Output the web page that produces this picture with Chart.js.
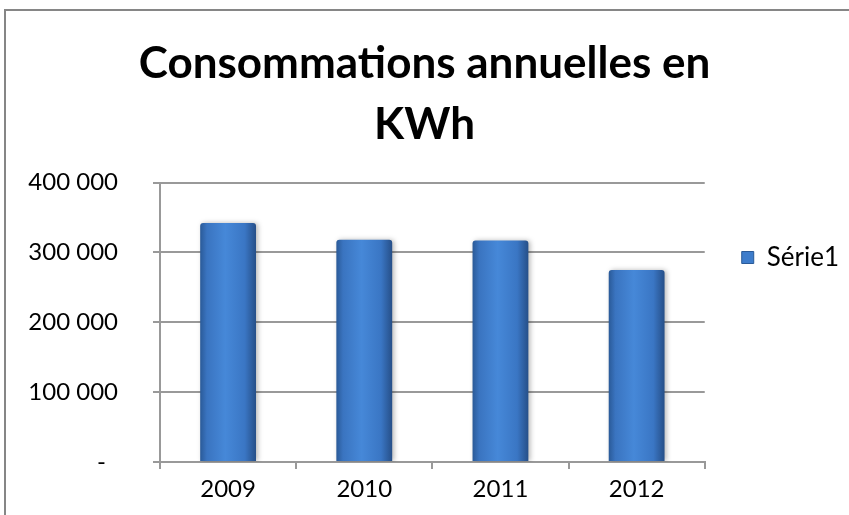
<!DOCTYPE html>
<html>
<head>
<meta charset="utf-8">
<script src="https://cdn.jsdelivr.net/npm/chart.js@4/dist/chart.umd.min.js"></script>
<style>
  html, body { margin: 0; padding: 0; background: #fff; overflow: hidden; }
  #wrap { position: relative; width: 849px; height: 515px; }
  #frame { position: absolute; left: 4px; top: 9px; width: 900px; height: 600px; border: 2px solid #868686; box-sizing: border-box; }
  #barChart { position: absolute; left: 0; top: 0; }
</style>
</head>
<body>
<div id="wrap">
  <div id="frame"></div>
  <canvas id="barChart" width="849" height="515"></canvas>
</div>
<script>
var years = ['2009', '2010', '2011', '2012'];
var consommation = [342000, 318000, 317000, 275000];
var yTicks = [0, 100000, 200000, 300000, 400000];
var seriesName = 'Série1';

var fontName = 'Lato, "Open Sans", sans-serif';
var gridGrey = '#999999';

function formatTick(v) {
	// excel accounting style: zero shows as a dash, set a bit in from the right
	if (v === 0) return '-\u2002';
	return String(v).replace(/\B(?=(\d{3})+(?!\d))/g, ' ');
}

// cylinder-ish shading, like the old office 3D bars
function barFill(context) {
	var chart = context.chart;
	var xs = chart.scales.x;
	if (!chart.chartArea || !xs) return '#3d7ccb';
	var cx = xs.getPixelForValue(context.dataIndex);
	var half = (xs.width / years.length) * 0.41 / 2;
	var g = chart.ctx.createLinearGradient(cx - half, 0, cx + half, 0);
	g.addColorStop(0, '#2a5a98');
	g.addColorStop(0.12, '#3a74c0');
	g.addColorStop(0.45, '#4688d8');
	g.addColorStop(0.8, '#3a76c4');
	g.addColorStop(1, '#264f88');
	return g;
}

var shadowPlugin = {
	id: 'barShadow',
	beforeDatasetsDraw: function (chart) {
		var c = chart.ctx;
		c.save();
		c.shadowColor = 'rgba(0,0,0,0.28)';
		c.shadowBlur = 5;
		c.shadowOffsetX = 2;
		c.shadowOffsetY = 0;
	},
	afterDatasetsDraw: function (chart) {
		chart.ctx.restore();
	}
};

var ctx = document.getElementById('barChart').getContext('2d');
var myChart = new Chart(ctx, {
	type: 'bar',
	data: {
		labels: years,
		datasets: [{
			label: seriesName,
			data: consommation,
			backgroundColor: barFill,
			borderWidth: 0,
			borderRadius: { topLeft: 3, topRight: 3 },
			borderSkipped: 'bottom',
			barPercentage: 0.41,
			categoryPercentage: 1
		}]
	},
	plugins: [shadowPlugin],
	options: {
		responsive: false,
		animation: false,
		layout: { padding: { left: 0, right: 0, top: 0, bottom: 0 } },
		plugins: {
			title: {
				display: true,
				text: ['Consommations annuelles en', 'KWh'],
				color: '#000',
				font: { family: fontName, size: 44, weight: 'bold', lineHeight: 1.37 },
				padding: { top: 34, bottom: 28 }
			},
			legend: {
				position: 'right',
				labels: {
					color: '#000',
					font: { family: fontName, size: 26 },
					boxWidth: 12,
					boxHeight: 12,
					padding: 37,
					generateLabels: function (chart) {
						return [{
							text: seriesName,
							fillStyle: '#3d7ccb',
							strokeStyle: '#2a5a98',
							lineWidth: 1,
							datasetIndex: 0
						}];
					}
				}
			},
			tooltip: { enabled: false }
		},
		scales: {
			x: {
				afterFit: function (s) { s.height = 53; },
				grid: { drawOnChartArea: false, drawTicks: true, tickLength: 7, color: gridGrey, lineWidth: 2 },
				border: { color: gridGrey, width: 2 },
				ticks: { color: '#000', padding: 6, font: { family: fontName, size: 24 } }
			},
			y: {
				min: 0,
				max: yTicks[yTicks.length - 1],
				afterFit: function (s) { s.width = 160; },
				afterBuildTicks: function (s) {
					s.ticks = yTicks.map(function (v) { return { value: v }; });
				},
				grid: { color: gridGrey, lineWidth: 2, tickLength: 7 },
				border: { color: gridGrey, width: 2 },
				ticks: { color: '#000', padding: 35, font: { family: fontName, size: 24 }, callback: formatTick }
			}
		}
	}
});
</script>
</body>
</html>
